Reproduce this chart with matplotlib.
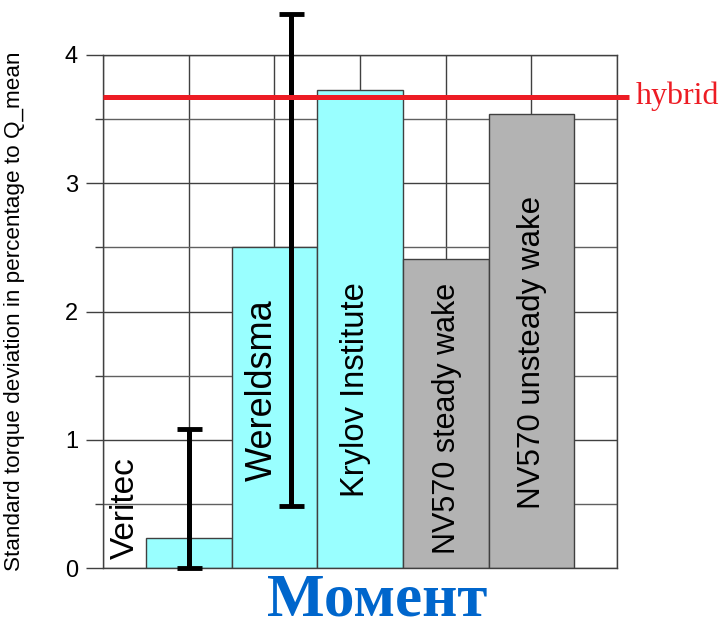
import matplotlib
matplotlib.use("Agg")
import matplotlib.pyplot as plt
import numpy as np
from matplotlib.ticker import MultipleLocator

# torque deviation per method
methods = ["Veritec", "Wereldsma", "Krylov Institute", "NV570 steady wake", "NV570 unsteady wake"]
values = [0.236, 2.50, 3.73, 2.41, 3.54]
bar_colors = ["#99ffff", "#99ffff", "#99ffff", "#b3b3b3", "#b3b3b3"]

# measured scatter ranges (low, high)
err_x = [1.0, 2.2]
err_low = [0.0, 0.48]
err_high = [1.08, 4.32]

hybrid = 3.675

# label placement and size for each bar
label_x = [0.26, 1.86, 2.95, 4.02, 5.01]
label_y = [0.47, 1.39, 1.39, 1.17, 1.68]
label_size = [24, 26, 23.6, 22, 22.5]

fig = plt.figure(figsize=(7.22, 6.30), dpi=100)
ax = fig.add_axes([0.1427, 0.0984, 0.7119, 0.8143])

x = np.arange(1, len(methods) + 1)
ax.bar(x, values, width=1.0, color=bar_colors, edgecolor="#404040",
       linewidth=1.0, zorder=2)

for xi, lo, hi in zip(err_x, err_low, err_high):
    mid = (lo + hi) / 2
    eb = ax.errorbar(xi, mid, yerr=(hi - lo) / 2, fmt="none", ecolor="black",
                     elinewidth=3.6, capsize=9, capthick=3.5, zorder=4)
    for art in eb.lines[1] + eb.lines[2]:
        art.set_clip_on(False)
    for art in eb.lines[1]:
        art.set_solid_capstyle("round")

ax.plot([0, 6.14], [hybrid, hybrid], color="#ed1c24", lw=3.6,
        solid_capstyle="butt", clip_on=False, zorder=5)
ax.annotate("hybrid", xy=(1.037, hybrid), xycoords=("axes fraction", "data"),
            ha="left", va="center", fontsize=23, color="#ed1c24",
            family="Liberation Serif", annotation_clip=False)

for lx, ly, name, fs in zip(label_x, label_y, methods, label_size):
    ax.text(lx, ly, name, rotation=90, ha="center", va="center",
            fontsize=fs, family="Liberation Sans", zorder=6)

ax.set_xlim(0, 6)
ax.set_ylim(0, 4)
ax.set_xticks(range(0, 7))
ax.tick_params(axis="x", length=0, labelbottom=False)
ax.yaxis.set_major_locator(MultipleLocator(1))
ax.yaxis.set_minor_locator(MultipleLocator(0.5))
ax.tick_params(axis="y", which="major", length=12, width=1, color="#404040",
               pad=6, labelsize=17)
ax.tick_params(axis="y", which="minor", length=6, width=1, color="#404040")
for lab in ax.get_yticklabels():
    lab.set_family("Liberation Sans")

ax.grid(True, which="major", axis="both", color="#404040", lw=1.0, zorder=0)
ax.grid(True, which="minor", axis="y", color="#606060", lw=1.0, zorder=0)
ax.set_axisbelow(True)
for sp in ax.spines.values():
    sp.set_color("#404040")
    sp.set_linewidth(1.0)

ax.set_ylabel("Standard torque deviation in percentage to Q_mean",
              fontsize=16.2, family="Liberation Sans", labelpad=10)
ax.yaxis.set_label_coords(-0.152, 0.5)

fig.text(0.522, 0.023, "Момент", ha="center", va="baseline", fontsize=44,
         fontweight="bold", family="Liberation Serif", color="#0066cc")

fig.savefig("out.png", dpi=100)
